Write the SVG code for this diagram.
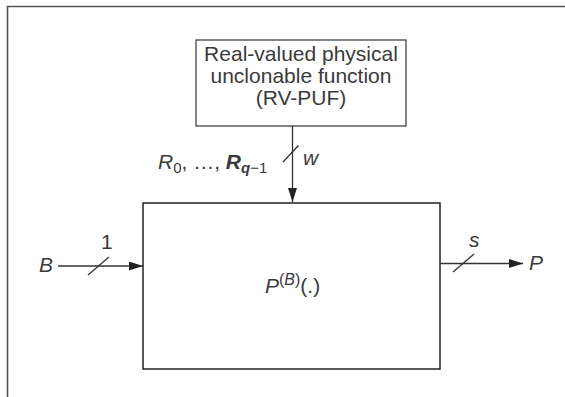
<svg xmlns="http://www.w3.org/2000/svg" width="565" height="397" viewBox="0 0 565 397">
<style>
text{font-family:"Liberation Sans",Arial,sans-serif;fill:#3a3a3a;font-size:21px}
.it{font-style:italic}
.c{text-anchor:middle}
.ln{stroke:#333;stroke-width:1.3;fill:none}
</style>
<defs>
<marker id="ah" markerWidth="14" markerHeight="9" refX="14" refY="4.5" orient="auto" markerUnits="userSpaceOnUse">
<path d="M0,0 L14,4.5 L0,9 Z" fill="#222"/>
</marker>
</defs>
<rect width="565" height="397" fill="#fff"/>
<path d="M7.5,397 V6.5 H565" fill="none" stroke="#555" stroke-width="1.6"/>
<g id="puf">
<rect x="196" y="40" width="210" height="86" fill="#fff" stroke="#444" stroke-width="1.3"/>
<text class="c" x="301" y="61">Real-valued physical</text>
<text class="c" x="301" y="83">unclonable function</text>
<text class="c" x="301" y="105">(RV-PUF)</text>
</g>
<g id="main">
<rect x="143" y="203" width="297" height="166" fill="#fff" stroke="#222" stroke-width="1.5"/>
<text x="265" y="293"><tspan class="it">P</tspan><tspan dy="-8" font-size="16">(</tspan><tspan class="it" font-size="16">B</tspan><tspan font-size="16">)</tspan><tspan dy="8">(.)</tspan></text>
</g>
<g id="connectors">
<line class="ln" x1="292.5" y1="126" x2="292.5" y2="202" marker-end="url(#ah)"/>
<line class="ln" x1="283" y1="162" x2="298.5" y2="145.5"/>
<line class="ln" x1="58" y1="266" x2="143" y2="266" marker-end="url(#ah)"/>
<line class="ln" x1="88" y1="275" x2="109" y2="257"/>
<line class="ln" x1="440" y1="263.5" x2="523" y2="263.5" marker-end="url(#ah)"/>
<line class="ln" x1="453" y1="272" x2="474" y2="254"/>
</g>
<g id="labels">
<text class="it" x="303" y="165">w</text>
<text x="158" y="169"><tspan class="it">R</tspan><tspan font-size="15" dy="4">0</tspan><tspan dy="-4">, …, </tspan><tspan class="it" font-weight="bold">R</tspan><tspan class="it" font-weight="bold" font-size="15" dy="4">q</tspan><tspan font-size="15">−1</tspan></text>
<text class="it" x="39" y="272">B</text>
<text x="101" y="249">1</text>
<text class="it" x="469" y="247">s</text>
<text class="it" x="529" y="270">P</text>
</g>
</svg>
